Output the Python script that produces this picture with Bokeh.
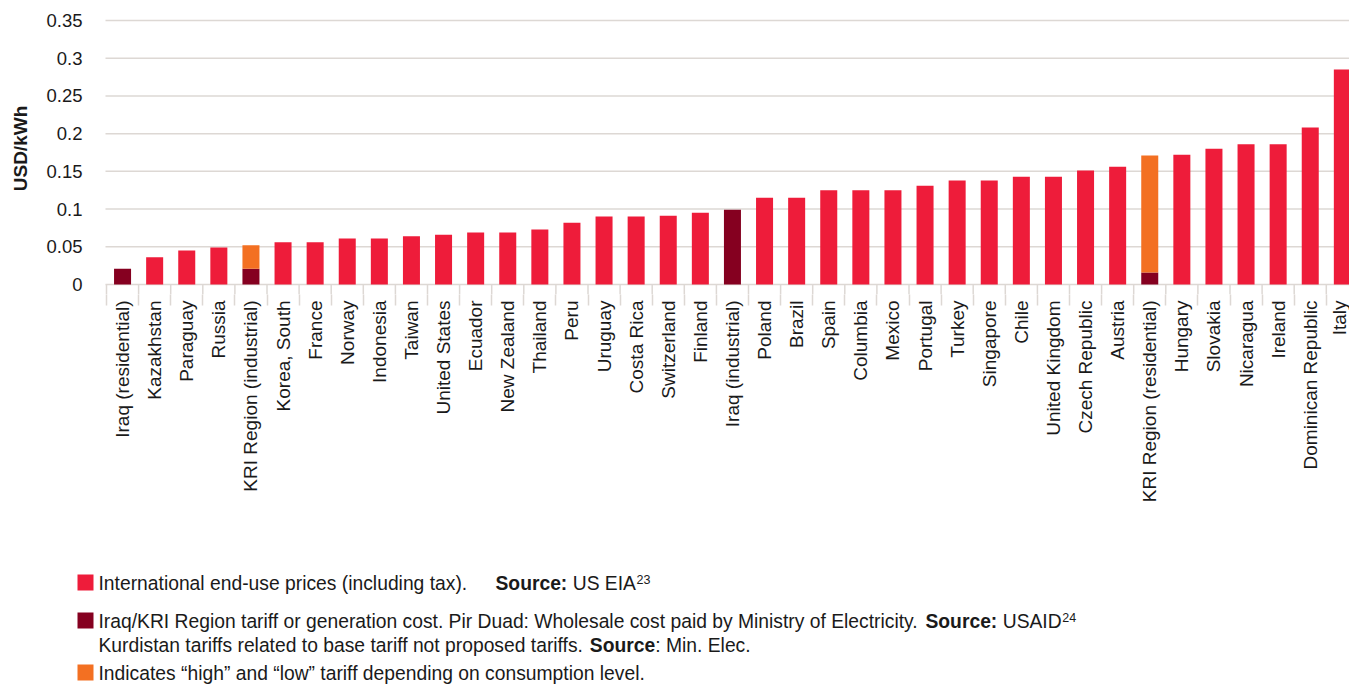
import math
from bokeh.plotting import figure
from bokeh.models import FixedTicker, Range1d, ColumnDataSource
from bokeh.layouts import column
from bokeh.embed import file_html
from bokeh.resources import INLINE
from bokeh.core.properties import value

# ---------------- data ----------------
categories = [
    "Iraq (residential)", "Kazakhstan", "Paraguay", "Russia", "KRI Region (industrial)",
    "Korea, South", "France", "Norway", "Indonesia", "Taiwan", "United States", "Ecuador",
    "New Zealand", "Thailand", "Peru", "Uruguay", "Costa Rica", "Switzerland", "Finland",
    "Iraq (industrial)", "Poland", "Brazil", "Spain", "Columbia", "Mexico", "Portugal",
    "Turkey", "Singapore", "Chile", "United Kingdom", "Czech Republic", "Austria",
    "KRI Region (residential)", "Hungary", "Slovakia", "Nicaragua", "Ireland",
    "Dominican Republic", "Italy",
]
# International end-use prices (USD/kWh), 0 where not applicable
intl_prices = [
    0, 0.036, 0.045, 0.049, 0,
    0.056, 0.056, 0.061, 0.061, 0.064, 0.066, 0.069,
    0.069, 0.073, 0.082, 0.090, 0.090, 0.091, 0.095,
    0, 0.115, 0.115, 0.125, 0.125, 0.125, 0.131,
    0.138, 0.138, 0.143, 0.143, 0.151, 0.156,
    0, 0.172, 0.180, 0.186, 0.186,
    0.208, 0.285,
]
# Iraq/KRI Region tariff or generation cost
iraq_kri_tariff = [
    0.021, 0, 0, 0, 0.021,
    0, 0, 0, 0, 0, 0, 0,
    0, 0, 0, 0, 0, 0, 0,
    0.099, 0, 0, 0, 0, 0, 0,
    0, 0, 0, 0, 0, 0,
    0.016, 0, 0, 0, 0,
    0, 0,
]
# "High" tariff level (top of orange segment)
high_tariff = [
    0, 0, 0, 0, 0.052,
    0, 0, 0, 0, 0, 0, 0,
    0, 0, 0, 0, 0, 0, 0,
    0, 0, 0, 0, 0, 0, 0,
    0, 0, 0, 0, 0, 0,
    0.171, 0, 0, 0, 0,
    0, 0,
]
y_ticks = [0, 0.05, 0.1, 0.15, 0.2, 0.25, 0.3, 0.35]
y_tick_labels = ["0", "0.05", "0.1", "0.15", "0.2", "0.25", "0.3", "0.35"]
y_axis_title = "USD/kWh"

# ---------------- styles / layout ----------------
RED = "#EE1C3A"
DARK = "#850020"
ORANGE = "#F37022"
GRID = "#DDD8D4"
TEXT = "#1a1a1a"
FONT = "Liberation Sans"

W = 1349
CHART_H = 560
LEG_H = 126
LEFT = 106            # pixel where the category area starts
PX_PER_CAT = 32.1
BAR_W = 0.53
ZERO_PX = 284         # pixel row of value 0
PX_PER_UNIT = 264 / 0.35
FRAME_BOTTOM = 294
TICK_END = 305


def xd(px):
    return (px - (LEFT + PX_PER_CAT / 2)) / PX_PER_CAT


def yd(py):
    return (ZERO_PX - py) / PX_PER_UNIT


xs = list(range(len(categories)))
x_max = xd(W)

p = figure(
    width=W, height=CHART_H,
    x_range=Range1d(xd(0), x_max),
    y_range=Range1d(yd(FRAME_BOTTOM), yd(0)),
    output_backend="svg", toolbar_location=None,
    min_border_left=0, min_border_right=0, min_border_top=0,
    min_border_bottom=CHART_H - FRAME_BOTTOM,
)
p.outline_line_color = None
p.background_fill_color = "white"
p.border_fill_color = "white"
p.yaxis.visible = False
p.xgrid.grid_line_color = None
p.ygrid.grid_line_color = None

# horizontal gridlines
p.segment(x0=[xd(LEFT - 1)] * len(y_ticks), x1=[x_max] * len(y_ticks), y0=y_ticks, y1=y_ticks,
          line_color=GRID, line_width=1.5)

# category separators: upper part inside the frame (lower part drawn as axis minor ticks)
bounds = [x - 0.5 for x in range(len(categories) + 1) if x - 0.5 <= x_max]
p.segment(x0=bounds, x1=bounds, y0=[0] * len(bounds), y1=[yd(FRAME_BOTTOM)] * len(bounds),
          line_color=GRID, line_width=1.5)

# y tick labels and axis title
p.text(x=[xd(82)] * len(y_ticks), y=y_ticks, text=y_tick_labels, text_font=value(FONT),
       text_font_size="18.5px", text_color=TEXT, text_align="right", text_baseline="middle")
p.text(x=[xd(20)], y=[yd(148)], text=[y_axis_title], angle=math.pi / 2, text_font=value(FONT),
       text_font_size="19px", text_font_style="bold", text_color=TEXT,
       text_align="center", text_baseline="middle")

red_src = ColumnDataSource(dict(
    x=[x for x, v in zip(xs, intl_prices) if v > 0],
    top=[v for v in intl_prices if v > 0],
))
p.vbar(x="x", top="top", bottom=0, width=BAR_W, source=red_src, fill_color=RED, line_color=None)

dark_src = ColumnDataSource(dict(
    x=[x for x, v in zip(xs, iraq_kri_tariff) if v > 0],
    top=[v for v in iraq_kri_tariff if v > 0],
))
p.vbar(x="x", top="top", bottom=0, width=BAR_W, source=dark_src, fill_color=DARK, line_color=None)

orange_src = ColumnDataSource(dict(
    x=[x for x, h in zip(xs, high_tariff) if h > 0],
    bottom=[t for t, h in zip(iraq_kri_tariff, high_tariff) if h > 0],
    top=[h for h in high_tariff if h > 0],
))
p.vbar(x="x", top="top", bottom="bottom", width=BAR_W, source=orange_src, fill_color=ORANGE, line_color=None)

# x axis (category separators as minor ticks)
xa = p.xaxis[0]
xa.ticker = FixedTicker(ticks=xs, minor_ticks=bounds)
xa.major_label_overrides = {x: c for x, c in zip(xs, categories)}
xa.major_label_orientation = math.pi / 2
xa.major_tick_out = 0
xa.major_tick_in = 0
xa.minor_tick_out = TICK_END - FRAME_BOTTOM
xa.minor_tick_in = 0
xa.minor_tick_line_color = GRID
xa.minor_tick_line_width = 1.5
xa.axis_line_color = None
xa.major_label_standoff = 300 - TICK_END
xa.major_label_text_font = FONT
xa.major_label_text_font_size = "19px"
xa.major_label_text_color = TEXT

# ---------------- legend / notes figure ----------------
REG = {' ': 278, 'a': 556, 'b': 556, 'c': 500, 'd': 556, 'e': 556, 'f': 278, 'g': 556, 'h': 556,
       'i': 222, 'j': 222, 'k': 500, 'l': 222, 'm': 833, 'n': 556, 'o': 556, 'p': 556, 'q': 556,
       'r': 333, 's': 500, 't': 278, 'u': 556, 'v': 500, 'w': 722, 'x': 500, 'y': 500, 'z': 500,
       'A': 667, 'B': 667, 'C': 722, 'D': 722, 'E': 667, 'F': 611, 'G': 778, 'H': 722, 'I': 278,
       'J': 500, 'K': 667, 'L': 556, 'M': 833, 'N': 722, 'O': 778, 'P': 667, 'Q': 778, 'R': 722,
       'S': 667, 'T': 611, 'U': 722, 'V': 667, 'W': 944, 'X': 667, 'Y': 667, 'Z': 611,
       '.': 278, ',': 278, ':': 278, '/': 278, '(': 333, ')': 333, '-': 333, '\u201c': 333, '\u201d': 333}
for d in "0123456789":
    REG[d] = 556
BOLD = dict(REG)
BOLD.update({'S': 667, 'o': 611, 'u': 611, 'r': 389, 'c': 556, 'e': 556, ':': 333, ' ': 278})


def text_w(s, size, bold=False):
    tbl = BOLD if bold else REG
    return sum(tbl.get(ch, 556) for ch in s) * size / 1000.0


# segments: (text, kind); spaces between segments are handled as offsets
legend_labels = [
    [("International end-use prices (including tax).", "n"), ("", "gap"), ("Source:", "b"),
     (" ", "sp"), ("US EIA", "n"), ("23", "sup")],
    [("Iraq/KRI Region tariff or generation cost. Pir Duad: Wholesale cost paid by Ministry of Electricity.", "n"),
     (" ", "sp"), ("Source:", "b"), (" ", "sp"), ("USAID", "n"), ("24", "sup")],
    [("Kurdistan tariffs related to base tariff not proposed tariffs.", "n"), (" ", "sp"),
     ("Source", "b"), (": Min. Elec.", "n")],
    [("Indicates \u201chigh\u201d and \u201clow\u201d tariff depending on consumption level.", "n")],
]
legend_colors = [RED, DARK, None, ORANGE]
baselines = [30, 68, 92, 120]

q = figure(
    width=W, height=LEG_H,
    x_range=Range1d(0, W), y_range=Range1d(LEG_H, 0),
    output_backend="svg", toolbar_location=None,
    min_border=0, min_border_left=0, min_border_right=0, min_border_top=0, min_border_bottom=0,
)
q.axis.visible = False
q.grid.visible = False
q.outline_line_color = None
q.background_fill_color = "white"
q.border_fill_color = "white"

SIZE = 19.3
SUP = 12.5
SW_L, SW_R = 77, 93
TX0 = 98
MID = 0.3465 * SIZE     # distance from baseline to em-box middle

sq = dict(left=[], right=[], top=[], bottom=[], color=[])
for col, base in zip(legend_colors, baselines):
    if col is None:
        continue
    sq["left"].append(SW_L)
    sq["right"].append(SW_R)
    sq["top"].append(base - 16)
    sq["bottom"].append(base)
    sq["color"].append(col)
q.quad(left="left", right="right", top="top", bottom="bottom", fill_color="color", line_color=None,
       source=ColumnDataSource(sq))

for segs, base in zip(legend_labels, baselines):
    x = TX0
    for s, kind in segs:
        if kind == "gap":
            x += 28
            continue
        if kind == "sp":
            x += text_w(" ", SIZE)
            continue
        if kind == "sup":
            q.text(x=[x + 0.5], y=[base - 7 - 0.3465 * SUP], text=[s], text_font=value(FONT),
                   text_font_size=f"{SUP}px", text_color=TEXT, text_baseline="middle", text_align="left")
            x += text_w(s, SUP)
            continue
        bold = kind == "b"
        q.text(x=[x], y=[base - MID], text=[s], text_font=value(FONT), text_font_size=f"{SIZE}px",
               text_font_style="bold" if bold else "normal",
               text_color=TEXT, text_baseline="middle", text_align="left")
        x += text_w(s, SIZE, bold)

layout = column(p, q, spacing=0)
open("out.html", "w").write(file_html(layout, INLINE))
